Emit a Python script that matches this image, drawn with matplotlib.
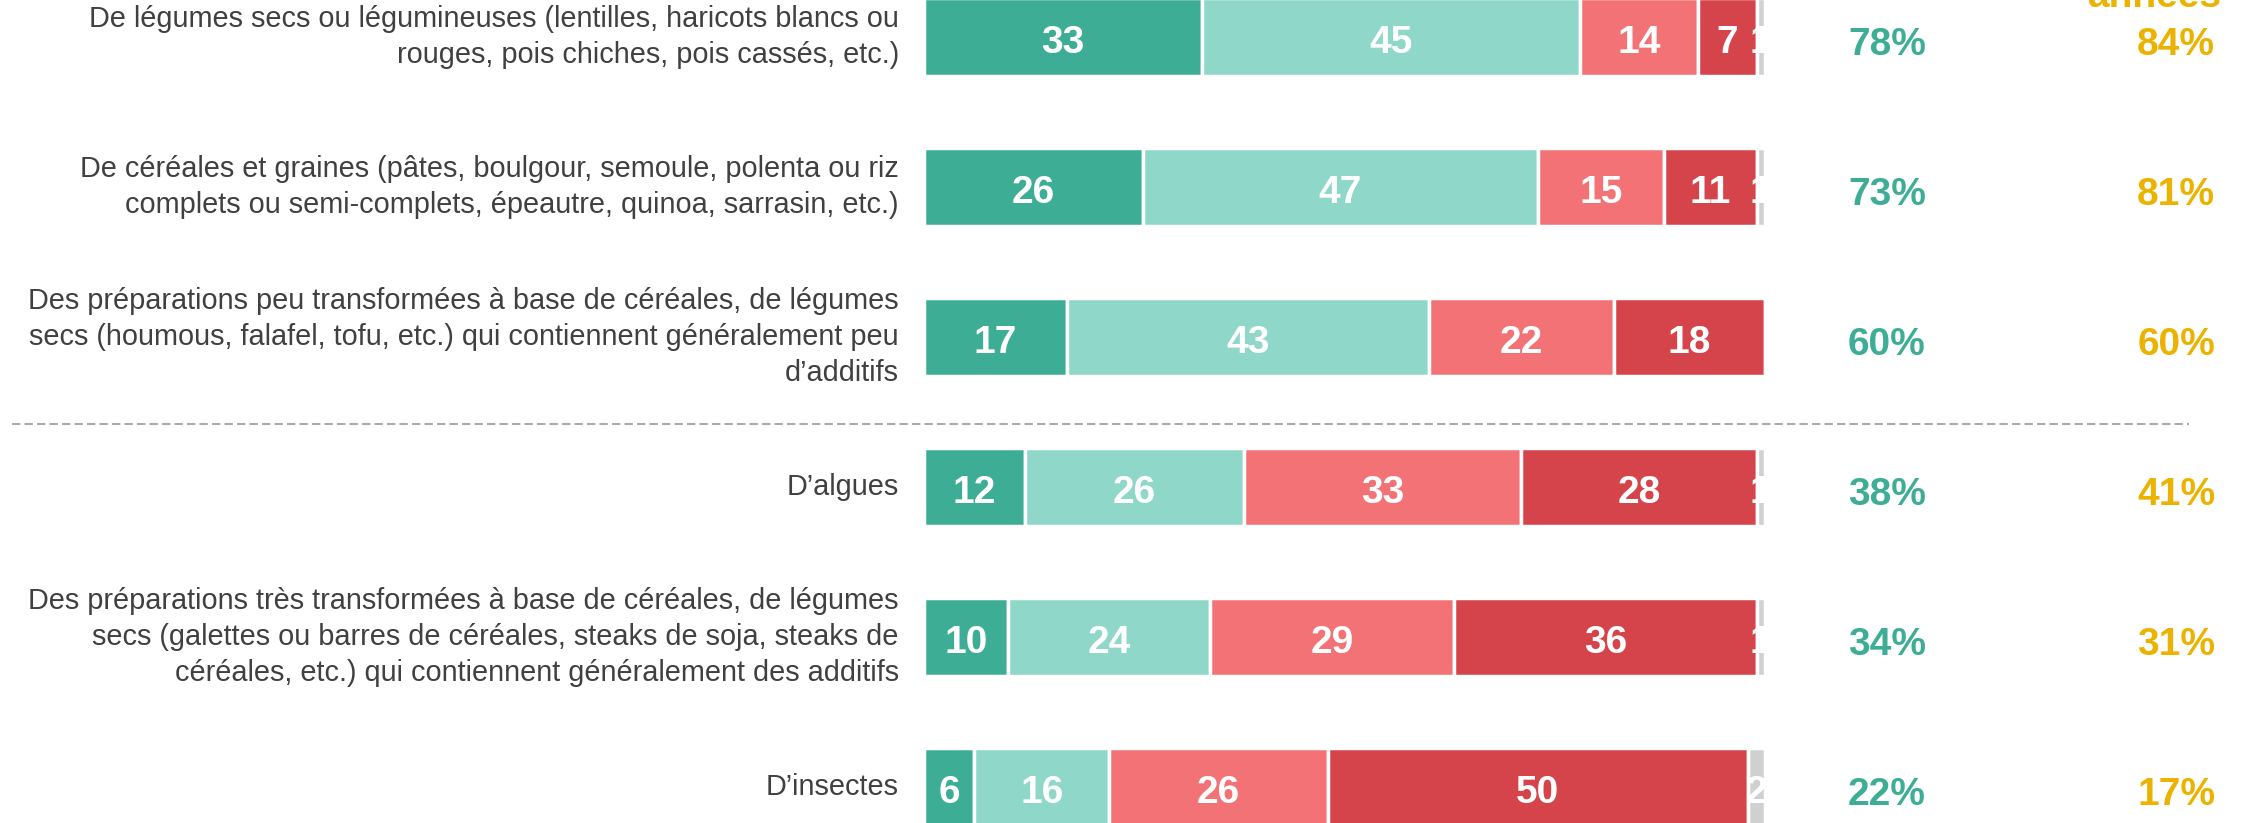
import numpy as np
import matplotlib.pyplot as plt

plt.rcParams['font.family'] = ['Liberation Sans', 'DejaVu Sans']

labels = [
    "De légumes secs ou légumineuses (lentilles, haricots blancs ou\nrouges, pois chiches, pois cassés, etc.)",
    "De céréales et graines (pâtes, boulgour, semoule, polenta ou riz\ncomplets ou semi-complets, épeautre, quinoa, sarrasin, etc.)",
    "Des préparations peu transformées à base de céréales, de légumes\nsecs (houmous, falafel, tofu, etc.) qui contiennent généralement peu\nd\u2019additifs",
    "D\u2019algues",
    "Des préparations très transformées à base de céréales, de légumes\nsecs (galettes ou barres de céréales, steaks de soja, steaks de\ncéréales, etc.) qui contiennent généralement des additifs",
    "D\u2019insectes",
]
tout_a_fait = [33, 26, 17, 12, 10, 6]
plutot_oui = [45, 47, 43, 26, 24, 16]
plutot_non = [14, 15, 22, 33, 29, 26]
pas_du_tout = [7, 11, 18, 28, 36, 50]
nsp = [1, 1, 0, 1, 1, 2]
total_oui = [78, 73, 60, 38, 34, 22]
total_prev = [84, 81, 60, 41, 31, 17]

series = [tout_a_fait, plutot_oui, plutot_non, pas_du_tout, nsp]
colors = ['#3DAE95', '#8FD7C9', '#F37275', '#D6444B', '#D0D0D0']

W, H = 2244, 823
fig = plt.figure(figsize=(W / 100, H / 100), dpi=100)
ax = fig.add_axes([0, 0, 1, 1])

# pixel layout: bar origin at x=924, 8.41 px per point; rows 150 px apart
ppu = 8.41
x0 = 924
ax.set_xlim(-x0 / ppu, (W - x0) / ppu)
row0, step = 37, 150
ax.set_ylim((H - row0) / step, -row0 / step)
ax.axis('off')

y = np.arange(len(labels))
left = np.zeros(len(labels))
for vals, c in zip(series, colors):
    vals = np.array(vals)
    ax.barh(y, vals, left=left, height=0.515, color=c, edgecolor='white', linewidth=2.5)
    for yi, l, v in zip(y, left, vals):
        if v > 0:
            ax.text(l + v / 2, yi + 0.105, str(v), ha='center', va='baseline', color='white',
                    fontsize=28, fontweight='bold')
    left += vals

for yi, lab in zip(y, labels):
    ax.text(-3, yi, lab, ha='right', va='center', color='#404040', fontsize=20.8,
            linespacing=1.38)

for yi, a, b in zip(y, total_oui, total_prev):
    ax.text(114.5, yi + 0.12, f"{a}%", ha='center', va='baseline', color='#3DAE95',
            fontsize=28, fontweight='bold')
    ax.text(148.9, yi + 0.12, f"{b}%", ha='center', va='baseline', color='#EBB300',
            fontsize=28, fontweight='bold')

ax.text(146.3, -0.2, "années", ha='center', va='baseline', color='#EBB300',
        fontsize=28, fontweight='bold')

ax.plot([-108.5, 150.4], [2.58, 2.58], color='#AAAAAA', linewidth=1.5, linestyle=(0, (4, 2)))

fig.savefig('out.png', dpi=100)
